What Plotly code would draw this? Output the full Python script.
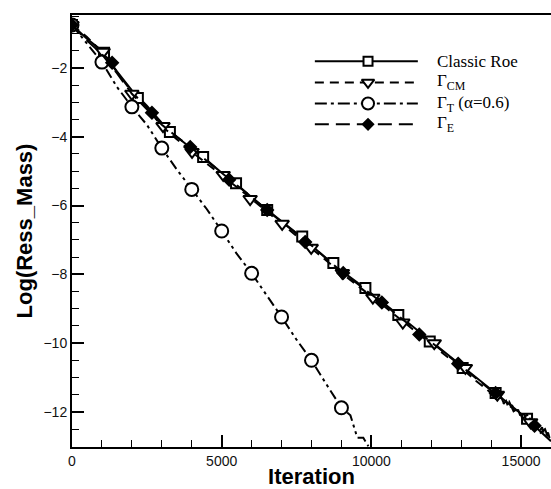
import plotly.graph_objects as go

# ---- data ----
roe_it = [0, 500, 1000, 1500, 2000, 2500, 3000, 3500, 4000, 4500, 5000, 5500, 6000, 6500, 7000, 7500,
          8000, 8500, 9000, 9500, 10000, 10500, 11000, 11500, 12000, 12500, 13000, 13500, 14000,
          14500, 15000, 15500, 16000]
roe_val = [-0.75, -1.15, -1.5, -2.1, -2.65, -3.1, -3.6, -4.0, -4.35, -4.68, -5.05, -5.38, -5.76, -6.12,
           -6.46, -6.8, -7.16, -7.52, -7.9, -8.22, -8.55, -8.9, -9.25, -9.6, -9.95, -10.3, -10.65,
           -11.0, -11.35, -11.7, -12.05, -12.45, -12.85]
roe_mk_it = [0, 1070, 2200, 3270, 4380, 5480, 6520, 7690, 8730, 9800, 10900, 11950, 13050, 14150, 15200]
roe_mk_val = [-0.75, -1.56, -2.87, -3.86, -4.59, -5.35, -6.13, -6.9, -7.67, -8.4, -9.18, -9.95, -10.72, -11.45, -12.2]

cm_it = [0, 500, 1000, 1500, 2000, 2500, 3000, 3500, 4000, 4500, 5000, 5500, 6000, 6500, 7000, 7500,
         8000, 8500, 9000, 9500, 10000, 10500, 11000, 11500, 12000, 12500, 13000, 13500, 14000,
         14100, 14200, 14300, 14400, 14500, 14600, 14700, 14800, 14900, 15000, 15100, 15200, 15300,
         15400, 15500, 15600, 15700, 15800, 15900, 16000]
cm_val = [-0.75, -1.1, -1.53, -2.1, -2.7, -3.15, -3.69, -4.07, -4.44, -4.78, -5.11, -5.46, -5.81, -6.17,
          -6.53, -6.88, -7.23, -7.6, -7.96, -8.3, -8.63, -8.98, -9.33, -9.68, -10.02, -10.38, -10.72,
          -11.1, -11.45, -11.4, -11.64, -11.55, -11.78, -11.68, -11.92, -11.8, -12.05, -11.93, -12.18,
          -12.05, -12.32, -12.18, -12.45, -12.3, -12.58, -12.45, -12.72, -12.6, -12.9]
cm_mk_it = [0, 1040, 2000, 3040, 4010, 5050, 5950, 7020, 7990, 9030, 10050, 11050, 12100, 13140, 14210, 15320]
cm_mk_val = [-0.75, -1.53, -2.75, -3.69, -4.44, -5.11, -5.81, -6.53, -7.23, -7.96, -8.68, -9.4, -10.0, -10.72, -11.5, -12.3]

t_it = [0, 500, 1000, 1500, 2000, 2500, 3000, 3500, 4000, 4500, 5000, 5500, 6000, 6500, 7000, 7500,
        8000, 8500, 9000, 9300, 9530, 9730, 9900]
t_val = [-0.75, -1.3, -1.83, -2.55, -3.13, -3.65, -4.33, -4.95, -5.53, -6.1, -6.74, -7.4, -7.97, -8.6,
         -9.24, -9.9, -10.5, -11.2, -11.88, -12.1, -12.75, -12.75, -13.0]
t_mk_it = [0, 1000, 2000, 3000, 4000, 5000, 6000, 7000, 8000, 9000]
t_mk_val = [-0.75, -1.83, -3.13, -4.33, -5.53, -6.74, -7.97, -9.24, -10.5, -11.88]

e_it = [0, 500, 1000, 1500, 2000, 2500, 3000, 3500, 4000, 4500, 5000, 5500, 6000, 6500, 7000, 7500,
        8000, 8500, 9000, 9500, 10000, 10500, 11000, 11500, 12000, 12500, 13000, 13500, 14000,
        14150, 14300, 14450, 14600, 14750, 14900, 15050, 15200, 15350, 15500, 15650, 15800, 15950, 16000]
e_val = [-0.75, -1.2, -1.6, -2.15, -2.75, -3.2, -3.65, -4.0, -4.33, -4.7, -5.05, -5.4, -5.75, -6.13,
         -6.47, -6.8, -7.16, -7.55, -7.92, -8.25, -8.58, -8.92, -9.28, -9.62, -9.97, -10.32, -10.67,
         -11.02, -11.38, -11.58, -11.5, -11.8, -11.7, -11.98, -11.9, -12.2, -12.08, -12.4, -12.28,
         -12.6, -12.5, -12.85, -12.9]
e_mk_it = [0, 1340, 2670, 3950, 5250, 6520, 7790, 9060, 10350, 11600, 12900, 14150, 15450]
e_mk_val = [-0.75, -1.85, -3.3, -4.3, -5.25, -6.13, -7.06, -7.96, -8.82, -9.75, -10.6, -11.45, -12.4]

names = ["Classic Roe", "Γ<sub>CM</sub>", "Γ<sub>T</sub> (α=0.6)", "Γ<sub>E</sub>"]

# style per series: dash, symbol, marker size, fill
series = [
    (roe_it, roe_val, roe_mk_it, roe_mk_val, "solid", "square", 10, "white"),
    (cm_it, cm_val, cm_mk_it, cm_mk_val, "9px,6px", "triangle-down", 12, "white"),
    (t_it, t_val, t_mk_it, t_mk_val, "10px,4px,3px,4px,3px,4px", "circle", 13, "white"),
    (e_it, e_val, e_mk_it, e_mk_val, "14px,7px", "diamond", 9, "black"),
]
legend_dash = ["solid", "9px,6px", "12px,4px,3px,4px", "14px,7px"]

fig = go.Figure()
for (it, val, mit, mval, dash, sym, ms, fill) in series:
    fig.add_trace(go.Scatter(x=it, y=val, mode="lines", showlegend=False,
                             line=dict(color="black", width=2, dash=dash)))
    fig.add_trace(go.Scatter(x=mit, y=mval, mode="markers", showlegend=False,
                             marker=dict(symbol=sym, size=ms, color=fill,
                                         line=dict(color="black", width=2))))

# ---- hand-built legend (long line samples) on an overlay axis in paper units ----
leg_rows = [0.893, 0.844, 0.795, 0.747]
leg_x0, leg_x1, leg_xm, leg_xt = 0.507, 0.722, 0.618, 0.758
for (s, row, ldash, name) in zip(series, leg_rows, legend_dash, names):
    _, _, _, _, _, sym, ms, fill = s
    fig.add_trace(go.Scatter(x=[leg_x0, leg_x1], y=[row, row], mode="lines", xaxis="x2", yaxis="y2",
                             showlegend=False, hoverinfo="skip",
                             line=dict(color="black", width=2, dash=ldash)))
    fig.add_trace(go.Scatter(x=[leg_xm], y=[row], mode="markers", xaxis="x2", yaxis="y2",
                             showlegend=False, hoverinfo="skip",
                             marker=dict(symbol=sym, size=ms - 1, color=fill,
                                         line=dict(color="black", width=2))))
    fig.add_annotation(x=leg_xt, y=row, xref="paper", yref="paper", text=name, showarrow=False,
                       xanchor="left", yanchor="middle",
                       font=dict(family="Liberation Serif, Times New Roman", size=17, color="black"))

axis_common = dict(showgrid=False, zeroline=False, showline=True, linecolor="black", linewidth=2,
                   ticks="inside", tickcolor="black", tickwidth=2, ticklen=12,
                   tickfont=dict(family="Arial, Liberation Sans", size=14, color="#111"))

fig.update_xaxes(range=[0, 16000], dtick=5000, tick0=0, mirror=True, tickformat="d",
                 minor=dict(dtick=1000, ticks="inside", ticklen=7, tickcolor="black", tickwidth=1),
                 title=dict(text="<b>Iteration</b>", standoff=0,
                            font=dict(family="Arial, Liberation Sans", size=22, color="black")),
                 **axis_common)
fig.update_yaxes(range=[-13.02, -0.46], dtick=2, tick0=0,
                 minor=dict(dtick=0.5, ticks="inside", ticklen=7, tickcolor="black", tickwidth=1),
                 title=dict(text="<b>Log(Ress_Mass)</b>", standoff=5,
                            font=dict(family="Arial, Liberation Sans", size=22, color="black")),
                 **axis_common)

fig.update_layout(
    width=551, height=489,
    margin=dict(l=72, r=0, t=15, b=42),
    plot_bgcolor="white", paper_bgcolor="white",
    showlegend=False,
    xaxis2=dict(overlaying="x", range=[0, 1], visible=False, fixedrange=True),
    yaxis2=dict(overlaying="y", range=[0, 1], visible=False, fixedrange=True),
)

fig.write_html("out.html")
